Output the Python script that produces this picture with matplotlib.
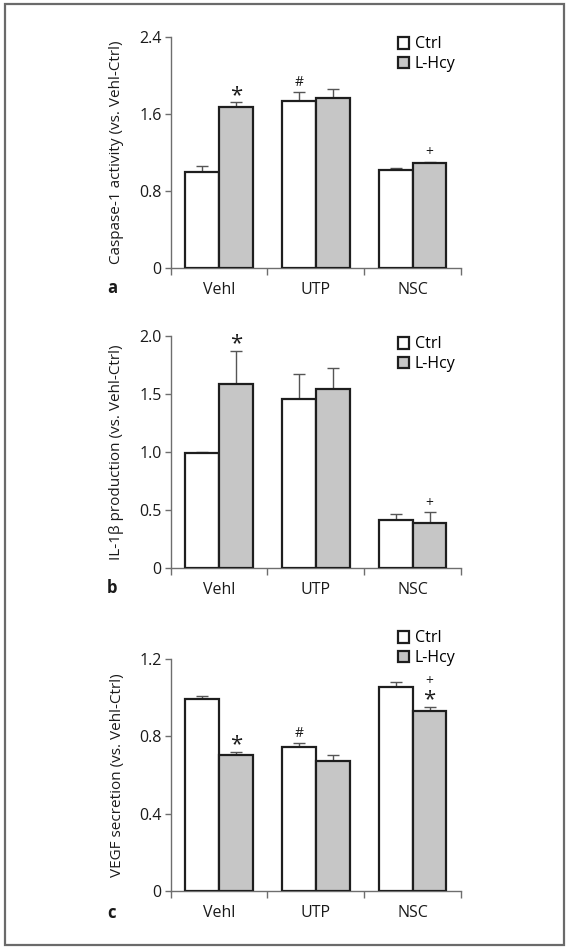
import numpy as np
import matplotlib
matplotlib.use("Agg")
import matplotlib.pyplot as plt
from matplotlib.patches import Rectangle

plt.rcParams['font.family'] = ['Open Sans', 'DejaVu Sans']

groups = ['Vehl', 'UTP', 'NSC']
series = ['Ctrl', 'L-Hcy']

# panel a: caspase-1
casp_ctrl = [1.00, 1.74, 1.02]
casp_ctrl_err = [0.058, 0.09, 0.018]
casp_hcy = [1.672, 1.77, 1.089]
casp_hcy_err = [0.048, 0.085, 0.014]

# panel b: IL-1b
il_ctrl = [0.99, 1.456, 0.417]
il_ctrl_err = [0.014, 0.216, 0.049]
il_hcy = [1.583, 1.545, 0.388]
il_hcy_err = [0.29, 0.182, 0.092]

# panel c: VEGF
vegf_ctrl = [0.995, 0.747, 1.057]
vegf_ctrl_err = [0.016, 0.019, 0.026]
vegf_hcy = [0.706, 0.675, 0.933]
vegf_hcy_err = [0.014, 0.026, 0.019]

# significance marks: (group index, series index, symbols bottom->top)
casp_marks = [(0, 1, '*'), (1, 0, '#'), (2, 1, '+')]
il_marks = [(0, 1, '*'), (2, 1, '+')]
vegf_marks = [(0, 1, '*'), (1, 0, '#'), (2, 1, '*+')]

panels = [
    dict(label='a', ylabel='Caspase-1 activity (vs. Vehl-Ctrl)',
         ctrl=casp_ctrl, ctrl_err=casp_ctrl_err, hcy=casp_hcy, hcy_err=casp_hcy_err,
         yticks=[0, 0.8, 1.6, 2.4], ylim=2.4, marks=casp_marks,
         rect=[170.5, 37, 461, 268], leg_y=43, lab_y=288),
    dict(label='b', ylabel='IL-1\u03b2 production (vs. Vehl-Ctrl)',
         ctrl=il_ctrl, ctrl_err=il_ctrl_err, hcy=il_hcy, hcy_err=il_hcy_err,
         yticks=[0, 0.5, 1.0, 1.5, 2.0], ylim=2.0, marks=il_marks,
         rect=[170.5, 336, 461, 568], leg_y=343, lab_y=588),
    dict(label='c', ylabel='VEGF secretion (vs. Vehl-Ctrl)',
         ctrl=vegf_ctrl, ctrl_err=vegf_ctrl_err, hcy=vegf_hcy, hcy_err=vegf_hcy_err,
         yticks=[0, 0.4, 0.8, 1.2], ylim=1.2, marks=vegf_marks,
         rect=[170.5, 659, 461, 891], leg_y=637, lab_y=913),
]

W, H = 569, 950
fig = plt.figure(figsize=(W / 100, H / 100), dpi=100)

axis_col = '#6e6e6e'
edge_col = '#1e1e1e'
gray = '#c6c6c6'
txt = '#1a1a1a'
bw = 0.35
x = np.arange(len(groups)) + 0.5

for p in panels:
    l, t, r, b = p['rect']
    ax = fig.add_axes([l / W, 1 - b / H, (r - l) / W, (b - t) / H])
    b1 = ax.bar(x - bw / 2, p['ctrl'], bw, color='white', edgecolor=edge_col,
                linewidth=1.6, label=series[0], zorder=3)
    b2 = ax.bar(x + bw / 2, p['hcy'], bw, color=gray, edgecolor=edge_col,
                linewidth=1.6, label=series[1], zorder=3)
    zeros = np.zeros(len(groups))
    ax.errorbar(x - bw / 2, p['ctrl'], yerr=[zeros, p['ctrl_err']], fmt='none',
                ecolor='#555555', elinewidth=1.0, capsize=4.3, capthick=1.0, zorder=2)
    ax.errorbar(x + bw / 2, p['hcy'], yerr=[zeros, p['hcy_err']], fmt='none',
                ecolor='#555555', elinewidth=1.0, capsize=4.3, capthick=1.0, zorder=2)

    vals = [p['ctrl'], p['hcy']]
    errs = [p['ctrl_err'], p['hcy_err']]
    for g, s, syms in p['marks']:
        xs = x[g] + (s - 0.5) * bw
        top = vals[s][g] + errs[s][g]
        off = 5.0
        for sym in syms:
            if sym == '*':
                ax.annotate('*', (xs, top), xytext=(0, off), textcoords='offset points',
                            ha='center', va='center', fontsize=16, color=txt)
                off += 11.5
            else:
                ax.annotate(sym, (xs, top), xytext=(0, off + 1.5), textcoords='offset points',
                            ha='center', va='center', fontsize=10, color=txt)
                off += 11

    ax.set_xlim(0, 3)
    ax.set_ylim(0, p['ylim'])
    ax.set_yticks(p['yticks'])
    ax.set_yticklabels(['0' if v == 0 else '%.1f' % v for v in p['yticks']])
    ax.set_xticks(x)
    ax.set_xticklabels(groups)
    ax.set_xticks([0, 1, 2, 3], minor=True)
    ax.tick_params(axis='x', which='major', length=0, pad=10, labelsize=11.5, colors=txt)
    ax.tick_params(axis='x', which='minor', length=5, width=1, color=axis_col, direction='out')
    ax.tick_params(axis='y', length=4.5, width=1, color=axis_col, pad=2,
                   labelsize=11.5, labelcolor=txt)
    for side in ['top', 'right']:
        ax.spines[side].set_visible(False)
    for side in ['left', 'bottom']:
        ax.spines[side].set_color(axis_col)
        ax.spines[side].set_linewidth(1.0)
    ax.set_ylabel(p['ylabel'], fontsize=11, color=txt)
    ax.yaxis.set_label_coords((117 - l) / (r - l), 0.5)
    ax.yaxis.label.set_va('center')

    fig.text(112 / W, 1 - p['lab_y'] / H, p['label'], fontsize=12, fontweight='bold',
             ha='center', va='center', color=txt)

    ax.legend(handles=[b1, b2], loc='upper left', frameon=False,
              bbox_to_anchor=(398 / W, 1 - (p['leg_y'] - 6.5) / H),
              bbox_transform=fig.transFigure, fontsize=11.5,
              handlelength=0.7, handleheight=0.7, handletextpad=0.35,
              labelspacing=0.25, borderaxespad=0, borderpad=0)

fig.add_artist(Rectangle((4.5 / W, 1 - 945 / H), 559 / W, 941 / H,
                         transform=fig.transFigure, fill=False,
                         edgecolor='#6a6a6a', linewidth=1.6))

fig.savefig('out.png', dpi=100)
